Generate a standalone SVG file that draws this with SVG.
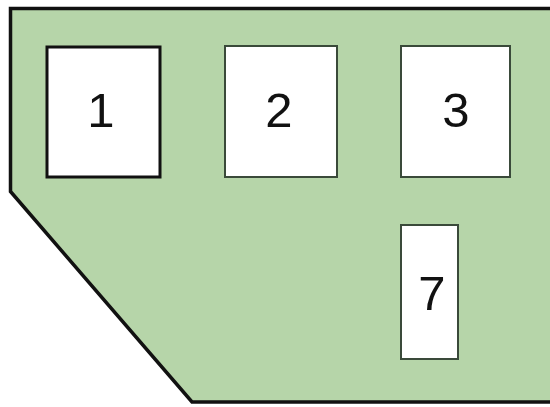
<svg xmlns="http://www.w3.org/2000/svg" width="550" height="407" viewBox="0 0 550 407">
<style>
.box{fill:#ffffff;stroke:#3a4a3a;stroke-width:2}
.lbl{font-family:"Liberation Sans",Arial,sans-serif;font-size:49px;fill:#111;text-anchor:middle}
</style>
<rect width="550" height="407" fill="#ffffff"/>
<g id="outline">
<polygon points="10.5,8.5 552,8.5 552,402 192,402 10.5,191.5" fill="#b6d5a9" stroke="#111" stroke-width="3.5" stroke-linejoin="miter"/>
</g>
<g id="n1">
<rect x="47" y="47" width="113" height="130" fill="#fff" stroke="#111" stroke-width="3"/>
<text class="lbl" x="101" y="127">1</text>
</g>
<g id="n2">
<rect class="box" x="225" y="46" width="112" height="131"/>
<text class="lbl" x="279" y="127">2</text>
</g>
<g id="n3">
<rect class="box" x="401" y="46" width="109" height="131"/>
<text class="lbl" x="456" y="127">3</text>
</g>
<g id="n7">
<rect class="box" x="401" y="225" width="57" height="134"/>
<text class="lbl" x="432" y="310">7</text>
</g>
<g id="connectors"></g>
</svg>
